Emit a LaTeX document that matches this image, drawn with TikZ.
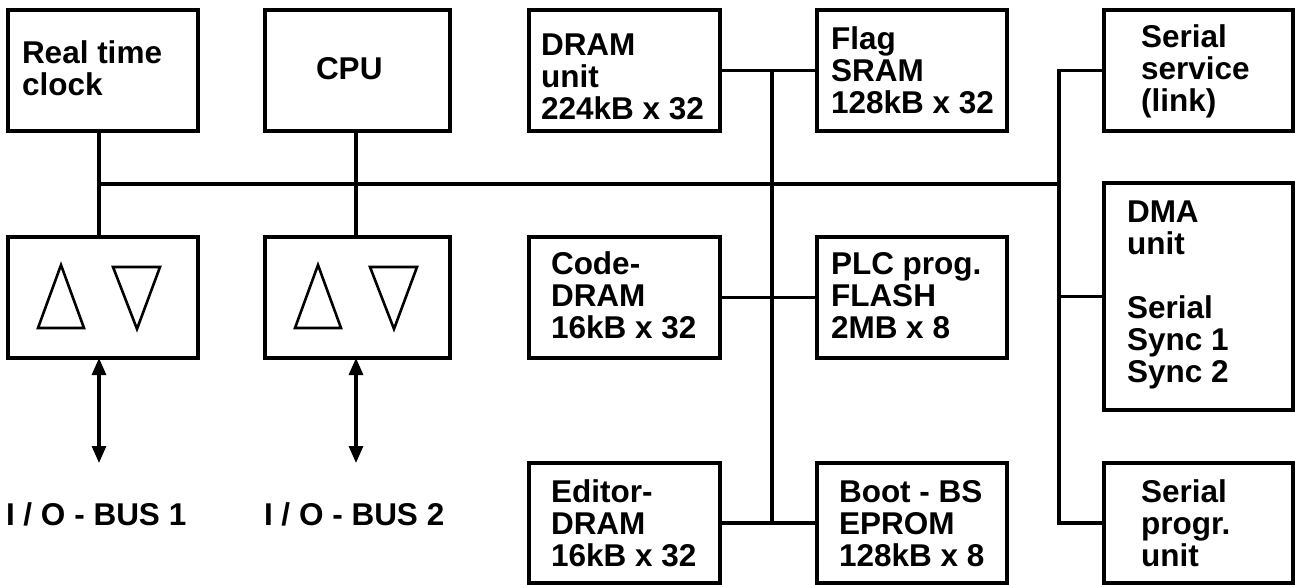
\documentclass[tikz,border=0pt]{standalone}
\usepackage{fontspec}
\setmainfont{Liberation Sans}
\usetikzlibrary{arrows.meta}
\newcommand\lns[1]{\vtop{\baselineskip=32pt\lineskiplimit=-100pt\lineskip=0pt #1}}
\begin{document}
\begin{tikzpicture}[x=1pt,y=-1pt,
  box/.style={draw,line width=3.2pt,inner sep=0pt,outer sep=0pt},
  txt/.style={anchor=base west,inner sep=0pt,outer sep=0pt,font=\fontsize{31.5}{32}\selectfont\bfseries},
  wire/.style={line width=3.1pt},
  tri/.style={line width=2.6pt,line join=miter},
  bi/.style={wire,{Triangle[length=17pt,width=14pt]}-{Triangle[length=17pt,width=14pt]}}]
\useasboundingbox (0,0) rectangle (1295,585);
% boxes
\node[box,minimum width=190pt,minimum height=121pt] (rtc) at (103,70.5) {};
\node[box,minimum width=185pt,minimum height=121pt] (cpu) at (357.5,70.5) {};
\node[box,minimum width=190pt,minimum height=121pt] (io1) at (103,297.5) {};
\node[box,minimum width=185pt,minimum height=121pt] (io2) at (357.5,297.5) {};
\node[box,minimum width=191pt,minimum height=121pt] (dram) at (624.5,70.5) {};
\node[box,minimum width=190pt,minimum height=121pt] (flag) at (912,70.5) {};
\node[box,minimum width=191pt,minimum height=121pt] (code) at (624.5,297.5) {};
\node[box,minimum width=190pt,minimum height=121pt] (plc) at (912,297.5) {};
\node[box,minimum width=191pt,minimum height=120pt] (edit) at (624.5,523) {};
\node[box,minimum width=190pt,minimum height=120pt] (boot) at (912,523) {};
\node[box,minimum width=189pt,minimum height=121pt] (ser) at (1198.5,70.5) {};
\node[box,minimum width=189pt,minimum height=227pt] (dma) at (1198.5,296.5) {};
\node[box,minimum width=189pt,minimum height=120pt] (prog) at (1198.5,523) {};
% texts
\node[txt] (trtc) at (22,64) {\lns{\hbox{Real time}\hbox{clock}}};
\node[txt] (tcpu) at (316,80) {CPU};
\node[txt] (tdram) at (541,56) {\lns{\hbox{DRAM}\hbox{unit}\hbox{224kB x 32}}};
\node[txt] (tflag) at (831,50) {\lns{\hbox{Flag}\hbox{SRAM}\hbox{128kB x 32}}};
\node[txt] (tcode) at (551,275) {\lns{\hbox{Code-}\hbox{DRAM}\hbox{16kB x 32}}};
\node[txt] (tplc) at (831,275) {\lns{\hbox{PLC prog.}\hbox{FLASH}\hbox{2MB x 8}}};
\node[txt] (tedit) at (551,502) {\lns{\hbox{Editor-}\hbox{DRAM}\hbox{16kB x 32}}};
\node[txt] (tboot) at (839,502) {\lns{\hbox{Boot - BS}\hbox{EPROM}\hbox{128kB x 8}}};
\node[txt] (tser) at (1141,48) {\lns{\hbox{Serial}\hbox{service}\hbox{(link)}}};
\node[txt] (tdma) at (1127,223) {\lns{\hbox{DMA}\hbox{unit}\hbox{}\hbox{Serial}\hbox{Sync 1}\hbox{Sync 2}}};
\node[txt] (tprog) at (1141,502) {\lns{\hbox{Serial}\hbox{progr.}\hbox{unit}}};
\node[txt] (bus1) at (6,525) {I / O - BUS 1};
\node[txt] (bus2) at (264,525) {I / O - BUS 2};
% triangles
\draw[tri] (61,265) -- (84,328) -- (38,328) -- cycle;
\draw[tri] (113,267) -- (160,267) -- (137,329) -- cycle;
\draw[tri] (318,265) -- (341,328) -- (295,328) -- cycle;
\draw[tri] (370,267) -- (417,267) -- (394,329) -- cycle;
% coordinates
\coordinate (bL) at (99,184);
\coordinate (bR) at (1059,184);
\coordinate (cx) at (356,184);
\coordinate (m) at (772,184);
\coordinate (a1) at (99,463);
\coordinate (a2) at (356,463);
% connectors
\draw[wire] (bL) -- (bR);
\draw[wire] (rtc.south -| bL) -- (io1.north -| bL);
\draw[wire] (cpu.south -| cx) -- (io2.north -| cx);
\draw[bi] (io1.south -| a1) -- (a1);
\draw[bi] (io2.south -| a2) -- (a2);
\draw[wire] (dram.east) -- (flag.west);
\draw[wire] (code.east) -- (plc.west);
\draw[wire] (edit.east) -- (boot.west);
\draw[wire] (dram.east -| m) -- (edit.east -| m);
\draw[wire] (ser.west) -- (ser.west -| bR) -- (prog.west -| bR) -- (prog.west);
\draw[wire] (dma.west) -- (dma.west -| bR);
\end{tikzpicture}
\end{document}
